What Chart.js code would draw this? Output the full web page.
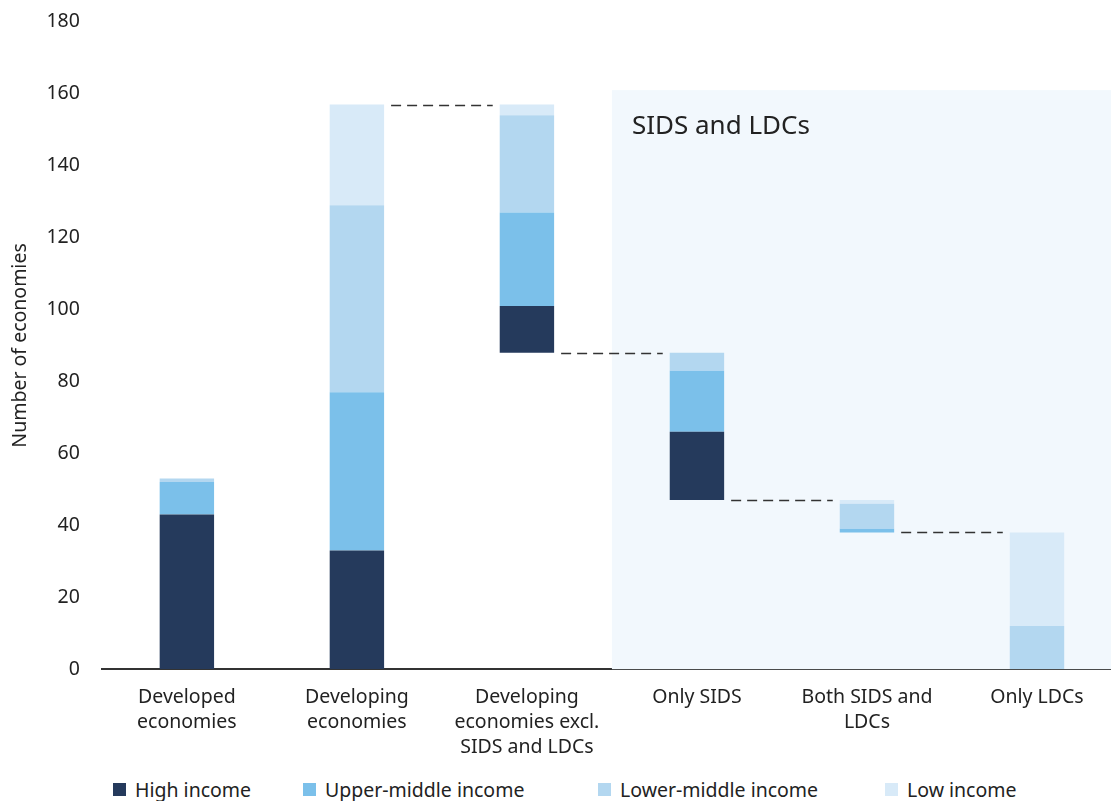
<!DOCTYPE html>
<html>
<head>
<meta charset="utf-8">
<script src="https://cdn.jsdelivr.net/npm/chart.js@4"></script>
<style>
  html, body { margin: 0; background: #fff; font-family: "Noto Sans", sans-serif; overflow: hidden; }
  #wrap { position: relative; width: 1122px; height: 768px; }
  #legend { position: absolute; top: 776px; left: 113px; display: flex; font-size: 19.5px; color: #222; }
  #legend .item { display: flex; align-items: center; }
  #legend .box { width: 13px; height: 13px; margin-right: 9px; }
</style>
</head>
<body>
<div id="wrap"><canvas id="chart"></canvas></div>
<div id="legend"></div>
<script>

const categories = [
    ['Developed', 'economies'],
    ['Developing', 'economies'],
    ['Developing', 'economies excl.', 'SIDS and LDCs'],
    'Only SIDS',
    ['Both SIDS and', 'LDCs'],
    'Only LDCs'
];

// invisible offset so the bars float like a waterfall
const baseValues = [0, 0, 88, 47, 38, 0];

const highIncome = [43, 33, 13, 19, 0, 0];
const upperMiddle = [9, 44, 26, 17, 1, 0];
const lowerMiddle = [1, 52, 27, 5, 7, 12];
const lowIncome = [0, 28, 3, 0, 1, 26];

const yTicks = [0, 20, 40, 60, 80, 100, 120, 140, 160, 180];
const shadeFrom = 2.5;   // category position where the SIDS/LDC block starts
const shadeTop = 161;

const series = [
    { label: 'High income', data: highIncome, color: '#253a5c' },
    { label: 'Upper-middle income', data: upperMiddle, color: '#7bc0ea' },
    { label: 'Lower-middle income', data: lowerMiddle, color: '#b3d7f0' },
    { label: 'Low income', data: lowIncome, color: '#d8eaf8' }
];

const datasets = [{
    label: 'base',
    data: baseValues,
    backgroundColor: 'rgba(0,0,0,0)'
}];
series.forEach(s => {
    datasets.push({ label: s.label, data: s.data, backgroundColor: s.color });
});

const shadePlugin = {
    id: 'shade',
    beforeDatasetsDraw(chart){
        let ctx = chart.ctx;
        let x = chart.scales.x;
        let y = chart.scales.y;
        let area = chart.chartArea;
        let left = x.getPixelForValue(shadeFrom);
        let top = y.getPixelForValue(shadeTop);
        ctx.save();
        ctx.fillStyle = '#f2f8fd';
        ctx.fillRect(left, top, area.right - left, area.bottom - top);
        ctx.fillStyle = '#222';
        ctx.font = '26px "Noto Sans"';
        ctx.textBaseline = 'middle';
        ctx.fillText('SIDS and LDCs', left + 20, top + 36);
        ctx.restore();
    }
};

const connectorPlugin = {
    id: 'connectors',
    afterDatasetsDraw(chart){
        let ctx = chart.ctx;
        let y = chart.scales.y;
        let meta = chart.getDatasetMeta(0);
        ctx.save();
        ctx.strokeStyle = '#333';
        ctx.lineWidth = 1.6;
        ctx.setLineDash([10, 6]);
        for(let i = 1; i < categories.length - 1; i++){
            let next = i + 1;
            let level = baseValues[next] + highIncome[next] + upperMiddle[next] + lowerMiddle[next] + lowIncome[next];
            let a = meta.data[i];
            let b = meta.data[next];
            let py = Math.round(y.getPixelForValue(level)) + 0.5;
            ctx.beginPath();
            ctx.moveTo(a.x + a.width / 2 + 7, py);
            ctx.lineTo(b.x - b.width / 2 - 7, py);
            ctx.stroke();
        }
        ctx.restore();
    }
};

new Chart(document.getElementById('chart'), {
    type: 'bar',
    data: { labels: categories, datasets: datasets },
    options: {
        responsive: true,
        maintainAspectRatio: false,
        animation: false,
        layout: { padding: { top: 0, right: 0, left: 0, bottom: 0 } },
        datasets: { bar: { barPercentage: 0.32, categoryPercentage: 1 } },
        plugins: {
            legend: { display: false },
            tooltip: { enabled: false }
        },
        scales: {
            x: {
                stacked: true,
                grid: { display: false },
                border: { display: true, color: '#333', width: 2 },
                ticks: {
                    color: '#222',
                    font: { family: 'Noto Sans', size: 19.5, lineHeight: 1.28 },
                    padding: 8,
                    maxRotation: 0,
                    autoSkip: false
                }
            },
            y: {
                stacked: true,
                min: 0,
                max: 180,
                afterBuildTicks(axis){
                    axis.ticks = yTicks.map(v => ({ value: v }));
                },
                grid: { display: false },
                border: { display: false },
                ticks: {
                    color: '#222',
                    font: { family: 'Noto Sans', size: 19.5, lineHeight: 0.8 },
                    padding: 14
                },
                title: {
                    display: true,
                    text: 'Number of economies',
                    color: '#222',
                    font: { family: 'Noto Sans', size: 19.5 },
                    padding: { top: 9, bottom: 0 }
                }
            }
        }
    },
    plugins: [shadePlugin, connectorPlugin]
});

// legend as plain html under the canvas
let legendBox = document.getElementById('legend');
let itemWidths = [190, 295, 287, 200];
series.forEach((s, i) => {
    let item = document.createElement('div');
    item.className = 'item';
    item.style.width = itemWidths[i] + 'px';
    item.innerHTML = '<span class="box" style="background:' + s.color + '"></span>' + s.label;
    legendBox.appendChild(item);
});
</script>
</body>
</html>
